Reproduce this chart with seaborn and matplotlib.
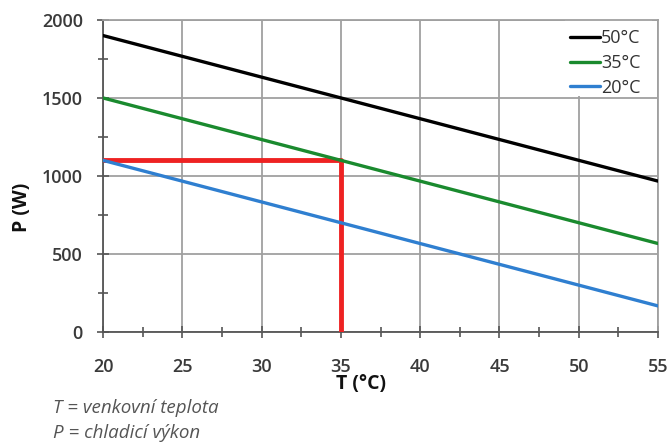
import matplotlib
matplotlib.use("Agg")
import matplotlib.pyplot as plt
import seaborn as sns
import pandas as pd
from matplotlib.ticker import MultipleLocator
from matplotlib.patches import Rectangle

T = [20, 55]
P50 = [1900, 967]
P35 = [1500, 567]
P20 = [1100, 167]
labels = ["50°C", "35°C", "20°C"]
colors = ["#000000", "#1a8a2e", "#2f7fd0"]
red_x = [20, 35, 35]
red_y = [1100, 1100, 0]

df = pd.concat([
    pd.DataFrame({"T": T, "P": P50, "s": labels[0]}),
    pd.DataFrame({"T": T, "P": P35, "s": labels[1]}),
    pd.DataFrame({"T": T, "P": P20, "s": labels[2]}),
])

sns.set_style("white")
plt.rcParams['font.family'] = ['Open Sans', 'DejaVu Sans']

fig = plt.figure(figsize=(6.69, 4.43), dpi=100)
ax = fig.add_axes([0.154, 0.2506, 0.8296, 0.7044])

ax.plot(red_x, red_y, color="#ee2222", lw=3.5, zorder=3, solid_capstyle="butt")
sns.lineplot(data=df, x="T", y="P", hue="s", palette=colors, lw=2.4, ax=ax, zorder=4)

ax.set_xlim(20, 55)
ax.set_ylim(0, 2000)
ax.xaxis.set_major_locator(MultipleLocator(5))
ax.yaxis.set_major_locator(MultipleLocator(500))
ax.xaxis.set_minor_locator(MultipleLocator(2.5))
ax.yaxis.set_minor_locator(MultipleLocator(250))
ax.set_axisbelow(True)
ax.grid(True, which="major", color="#a0a0a0", lw=1.3)
ax.tick_params(which="both", direction="inout", color="#555555", width=1.2)
ax.tick_params(which="major", length=9, labelsize=13, labelcolor="#3a3a3a")
ax.tick_params(axis="x", which="major", pad=14)
ax.tick_params(axis="y", which="major", pad=10)
ax.tick_params(which="minor", length=7)
ax.tick_params(axis="both", which="both", bottom=True, left=True)
for lab in ax.get_xticklabels() + ax.get_yticklabels():
    lab.set_fontweight("semibold")
for side in ["left", "bottom"]:
    ax.spines[side].set_color("#555555")
    ax.spines[side].set_linewidth(1.3)
for side in ["top", "right"]:
    ax.spines[side].set_color("#a0a0a0")
    ax.spines[side].set_linewidth(1.3)

ax.set_xlabel("T (°C)", fontsize=14, fontweight="bold", color="#111111")
ax.xaxis.set_label_coords(0.465, -0.135)
ax.set_ylabel("P (W)", fontsize=14, fontweight="bold", color="#111111")
ax.yaxis.set_label_coords(-0.128, 0.40)

# white backing behind the legend (hides the gridline like the original)
ax.add_patch(Rectangle((0.832, 0.755), 0.158, 0.245, transform=ax.transAxes,
                       facecolor="white", edgecolor="none", zorder=1))

leg = ax.legend(loc="upper right", bbox_to_anchor=(0.985, 1.0), frameon=False,
                fontsize=13, handlelength=1.7,
                handletextpad=0.05, labelspacing=0.38, borderaxespad=0.0,
                borderpad=0.5)
for t in leg.get_texts():
    t.set_color("#333333")
leg.set_title(None)

fig.text(0.079, 0.079, "T = venkovní teplota", fontsize=13.5, style="italic",
         color="#555555", va="center")
fig.text(0.079, 0.023, "P = chladicí výkon", fontsize=13.5, style="italic",
         color="#555555", va="center")

fig.savefig("out.png", dpi=100)
